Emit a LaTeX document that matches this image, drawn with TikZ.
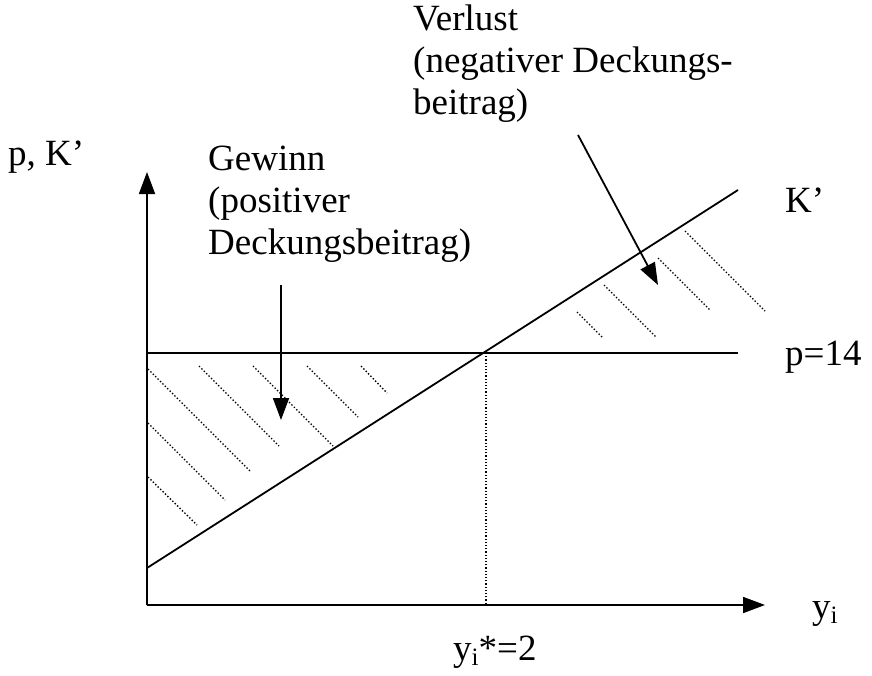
\documentclass[tikz,border=0pt]{standalone}
\usepackage{fontspec}
\setmainfont{Liberation Serif}
\usetikzlibrary{arrows.meta}
\newcommand{\subi}{\raisebox{-0.3ex}{\fontsize{25}{25}\selectfont i}}
\begin{document}
\begin{tikzpicture}[x=1pt,y=-1pt,
  ln/.style={line width=1.8pt},
  hatch/.style={line width=1.4pt,dotted},
  arr/.style={line width=1.8pt,-{Triangle[length=22pt,width=16pt]}},
  lbl/.style={anchor=base west,inner sep=0pt,font=\fontsize{37}{42}\selectfont,align=left}]
\useasboundingbox (0,0) rectangle (872,675);
\coordinate (O) at (147,605);
\coordinate (Ytop) at (147,172);
\coordinate (Xend) at (765,605);
\coordinate (P0) at (147,353);
\coordinate (P1) at (738,353);
\coordinate (K0) at (147,568);
\coordinate (K1) at (738,190);
\coordinate (S) at (486,353);
\coordinate (Sb) at (486,605);
\draw[arr] (O) -- (Ytop);
\draw[arr] (O) -- (Xend);
\draw[ln] (P0) -- (P1);
\draw[ln] (K0) -- (K1);
\draw[line width=1.2pt,dotted] (S) -- (Sb);
% hatching
\foreach \a/\b/\c/\d in {148/369/251/472, 148/423/225/500, 148/477/197/525, 199/366/279/446, 253/366/333/446, 307/366/358/417, 361/366/387/393, 577/312/603/338, 604/285/656/337, 658/258/710/310, 685/231/765/311}
  \draw[hatch] (\a,\b) -- (\c,\d);
% labels
\node[lbl] (pk) at (8,165) {p, K’};
\node[lbl] (kl) at (785,212) {K’};
\node[lbl] (pl) at (785,365) {p=14};
\node[lbl] (yl) at (812,618) {y\subi};
\node[lbl] (ys) at (453,660) {y\subi*=2};
\node[lbl] (gew) at (208,254) {Gewinn\\(positiver\\Deckungsbeitrag)};
\node[lbl] (ver) at (413,114) {Verlust\\(negativer Deckungs-\\beitrag)};
\coordinate (g0) at (281,285);
\coordinate (g1) at (281,420);
\coordinate (v0) at (578,135);
\coordinate (v1) at (658,285);
\draw[arr] (g0) -- (g1);
\draw[arr] (v0) -- (v1);
\end{tikzpicture}
\end{document}
